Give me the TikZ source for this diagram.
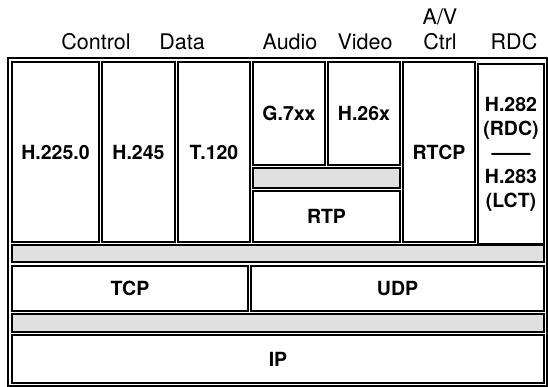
\documentclass[tikz,border=0pt]{standalone}
\usepackage{fontspec}
\setmainfont{TeX Gyre Heros}
\usetikzlibrary{positioning}

\begin{document}
\begin{tikzpicture}[x=1pt,y=-1pt,
  layer/.style={draw,line width=1.3pt,rectangle,inner sep=0pt,outer sep=0pt,
    font=\fontsize{19.5}{24}\selectfont\bfseries,align=center},
  band/.style={layer,fill=black!12},
  head/.style={font=\fontsize{21.5}{24}\selectfont,inner sep=0pt,anchor=base}]
  \useasboundingbox (0,0) rectangle (548,387);
  \node[layer,minimum width=539pt,minimum height=328pt] (frame) at (277.5,222){};
  % application layer
  \node[layer,minimum width=87pt,minimum height=180pt] (h2250) at (55.5,152){H.225.0};
  \node[layer,minimum width=73pt,minimum height=180pt] (h245) at (138.5,152){H.245};
  \node[layer,minimum width=72pt,minimum height=180pt] (t120) at (214,152){T.120};
  \node[layer,minimum width=72pt,minimum height=103pt] (g7xx) at (289,113.5){G.7xx};
  \node[layer,minimum width=72pt,minimum height=103pt] (h26x) at (364,113.5){H.26x};
  \node[band,minimum width=147pt,minimum height=20pt] (avband) at (326.5,178){};
  \node[layer,minimum width=147pt,minimum height=51pt] (rtp) at (326.5,216.5){RTP};
  \node[layer,minimum width=72pt,minimum height=180pt] (rtcp) at (439,152){RTCP};
  \node[layer,minimum width=66pt,minimum height=180pt] (rdc) at (511,154)
    {H.282\\(RDC)\\------\\H.283\\(LCT)};
  % transport and network
  \node[band,minimum width=532pt,minimum height=17pt] (band1) at (278,253.5){};
  \node[layer,minimum width=236pt,minimum height=45pt] (tcp) at (130,288.5){TCP};
  \node[layer,minimum width=293pt,minimum height=45pt] (udp) at (397.5,288.5){UDP};
  \node[band,minimum width=532pt,minimum height=18pt] (band2) at (278,323){};
  \node[layer,minimum width=532pt,minimum height=48pt] (ip) at (278,359){IP};
  % column headings
  \node[head] (control) at (96,50){Control};
  \node[head] (data) at (182,50){Data};
  \node[head] (audio) at (290,50){Audio};
  \node[head] (video) at (365,50){Video};
  \node[head] (av) at (440,25){A/V};
  \node[head] (ctrl) at (440,50){Ctrl};
  \node[head] (rdchead) at (514,50){RDC};
\end{tikzpicture}
\end{document}
